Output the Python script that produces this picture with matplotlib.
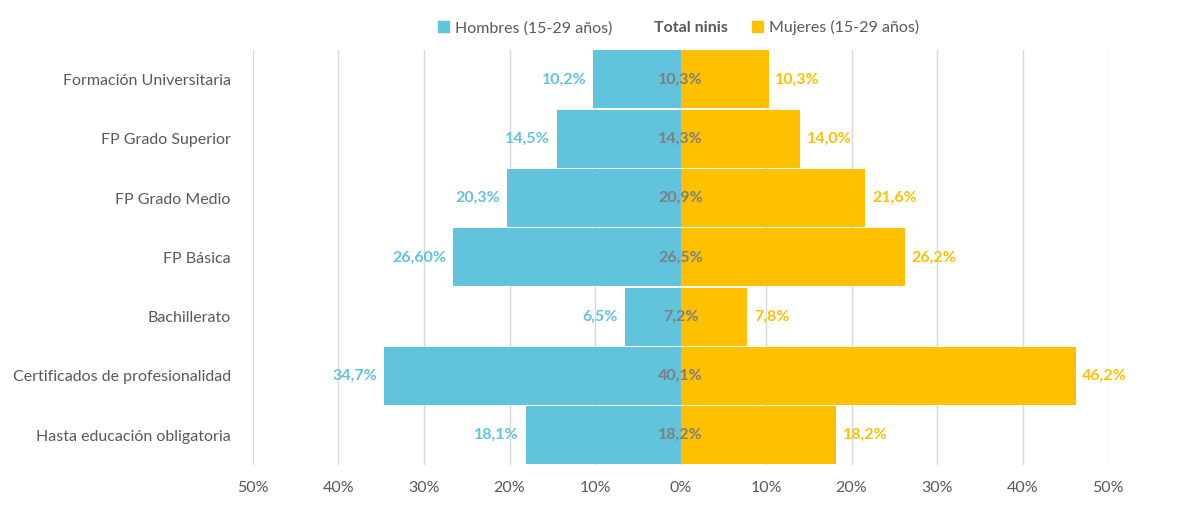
import matplotlib.pyplot as plt
from matplotlib.patches import Patch

plt.rcParams["font.family"] = ["Lato", "DejaVu Sans"]

categories = ["Formación Universitaria", "FP Grado Superior", "FP Grado Medio",
              "FP Básica", "Bachillerato", "Certificados de profesionalidad",
              "Hasta educación obligatoria"]
hombres = [10.2, 14.5, 20.3, 26.6, 6.5, 34.7, 18.1]
mujeres = [10.3, 14.0, 21.6, 26.2, 7.8, 46.2, 18.2]
total = [10.3, 14.3, 20.9, 26.5, 7.2, 40.1, 18.2]
hombres_txt = ["10,2%", "14,5%", "20,3%", "26,60%", "6,5%", "34,7%", "18,1%"]

BLUE = "#62C3DD"
GOLD = "#FFC000"
GREY = "#7F7F7F"

fig = plt.figure(figsize=(11.8, 5.08), dpi=100)
ax = fig.add_axes([0.2144, 0.085, 0.7246, 0.817])

y = list(range(len(categories)))
ax.barh(y, [-h for h in hombres], height=0.98, color=BLUE, zorder=2)
ax.barh(y, mujeres, height=0.98, color=GOLD, zorder=2)

for i in y:
    ax.text(-hombres[i] - 0.8, i, hombres_txt[i], ha="right", va="center",
            color=BLUE, fontsize=11.5, fontweight="bold")
    ax.text(mujeres[i] + 0.8, i, f"{mujeres[i]:.1f}%".replace(".", ","),
            ha="left", va="center", color=GOLD, fontsize=11.5, fontweight="bold")
    ax.text(0, i, f"{total[i]:.1f}%".replace(".", ","), ha="center", va="center",
            color=GREY, fontsize=11.5, fontweight="bold", zorder=3)

ax.set_xlim(-50, 50)
ax.set_ylim(len(categories) - 0.5, -0.5)
ticks = list(range(-50, 51, 10))
ax.set_xticks(ticks)
ax.set_xticklabels([f"{abs(t)}%" for t in ticks], color="#595959", fontsize=11.5)
ax.set_yticks(y)
ax.set_yticklabels(categories, color="#595959", fontsize=11.5)
ax.tick_params(length=0, pad=12)
ax.tick_params(axis="y", pad=16)
ax.grid(axis="x", color="#D9D9D9", linewidth=1, zorder=0)
for s in ax.spines.values():
    s.set_visible(False)

handles = [Patch(color=BLUE), Patch(color="none"), Patch(color=GOLD)]
leg = fig.legend(handles, ["Hombres (15-29 años)", "Total ninis", "Mujeres (15-29 años)"],
                 loc="center", bbox_to_anchor=(0.575, 0.945), ncol=3, frameon=False,
                 fontsize=11.5, handlelength=0.7, handleheight=0.7,
                 handletextpad=0.4, columnspacing=1.5)
for t in leg.get_texts():
    t.set_color("#595959")
leg.get_texts()[1].set_fontweight("bold")

fig.savefig("out.png", dpi=100)
